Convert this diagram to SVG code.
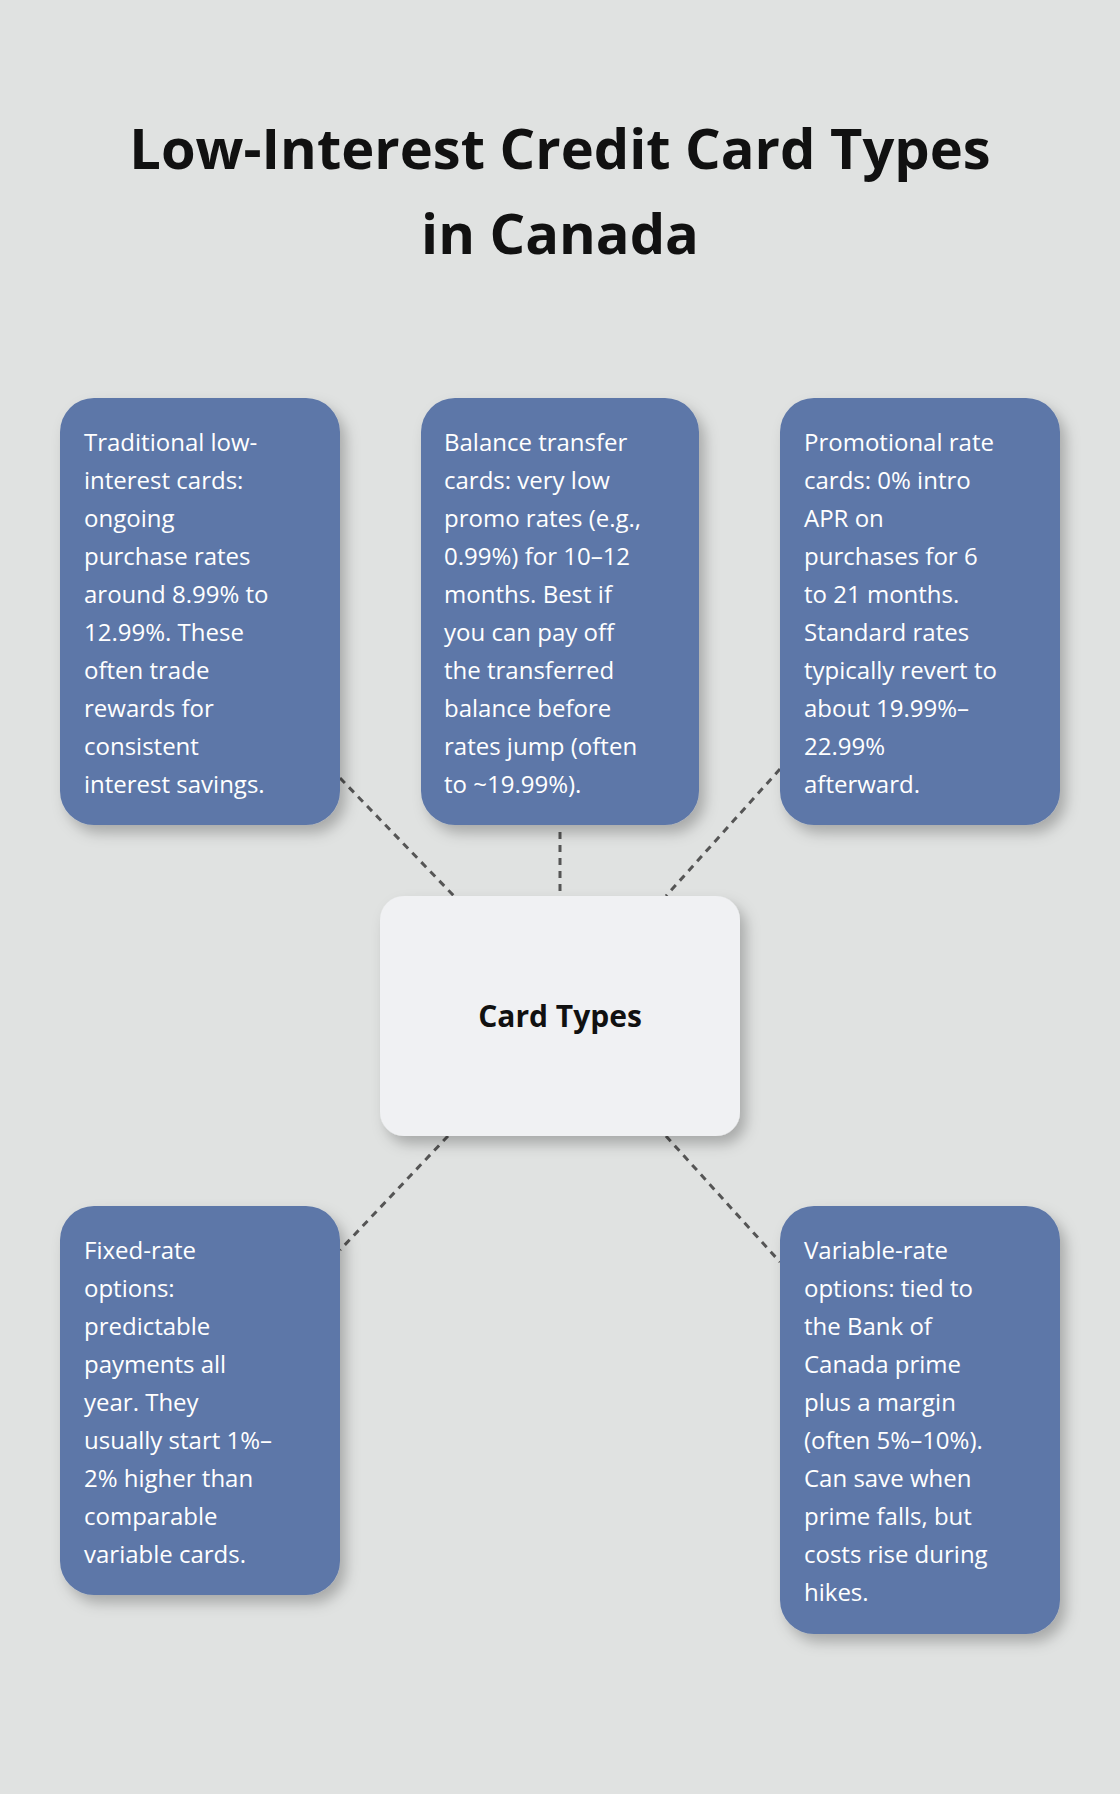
<svg xmlns="http://www.w3.org/2000/svg" width="1120" height="1794" viewBox="0 0 1120 1794">
<defs>
<filter id="sh" x="-20%" y="-20%" width="140%" height="140%"><feDropShadow dx="6" dy="8" stdDeviation="7" flood-color="#000" flood-opacity="0.25"/></filter>
</defs>
<style>
.b{fill:#5d77a8;filter:url(#sh)}
.t{font-family:"Open Sans","Noto Sans",sans-serif;font-size:24px;fill:#fff}
.c{stroke:#555;stroke-width:3;stroke-dasharray:7 6;fill:none}
</style>
<rect width="1120" height="1794" fill="#e0e2e1"/>
<g font-family="'Open Sans','Noto Sans',sans-serif" font-weight="bold" font-size="56" text-anchor="middle" fill="#111">
<text x="560" y="169">Low-Interest Credit Card Types</text>
<text x="560" y="254">in Canada</text>
</g>
<g id="connectors">
<line class="c" x1="340" y1="778" x2="454" y2="896"/>
<line class="c" x1="560" y1="832" x2="560" y2="896"/>
<line class="c" x1="780" y1="769" x2="666" y2="896"/>
<line class="c" x1="448" y1="1136" x2="340" y2="1250"/>
<line class="c" x1="666" y1="1136" x2="780" y2="1262"/>
</g>
<g id="center"><rect x="380" y="896" width="360" height="240" rx="24" fill="#f0f1f3" filter="url(#sh)"/>
<text x="560" y="1027" text-anchor="middle" font-family="'Open Sans','Noto Sans',sans-serif" font-weight="bold" font-size="30" fill="#111">Card Types</text></g>
<g id="traditional"><rect class="b" x="60" y="398" width="280" height="427" rx="34"/>
<text class="t"><tspan x="84" y="451">Traditional low-</tspan><tspan x="84" y="489">interest cards:</tspan><tspan x="84" y="527">ongoing</tspan><tspan x="84" y="565">purchase rates</tspan><tspan x="84" y="603">around 8.99% to</tspan><tspan x="84" y="641">12.99%. These</tspan><tspan x="84" y="679">often trade</tspan><tspan x="84" y="717">rewards for</tspan><tspan x="84" y="755">consistent</tspan><tspan x="84" y="793">interest savings.</tspan></text></g>
<g id="balance"><rect class="b" x="421" y="398" width="278" height="427" rx="34"/>
<text class="t"><tspan x="444" y="451">Balance transfer</tspan><tspan x="444" y="489">cards: very low</tspan><tspan x="444" y="527">promo rates (e.g.,</tspan><tspan x="444" y="565">0.99%) for 10–12</tspan><tspan x="444" y="603">months. Best if</tspan><tspan x="444" y="641">you can pay off</tspan><tspan x="444" y="679">the transferred</tspan><tspan x="444" y="717">balance before</tspan><tspan x="444" y="755">rates jump (often</tspan><tspan x="444" y="793">to ~19.99%).</tspan></text></g>
<g id="promo"><rect class="b" x="780" y="398" width="280" height="427" rx="34"/>
<text class="t"><tspan x="804" y="451">Promotional rate</tspan><tspan x="804" y="489">cards: 0% intro</tspan><tspan x="804" y="527">APR on</tspan><tspan x="804" y="565">purchases for 6</tspan><tspan x="804" y="603">to 21 months.</tspan><tspan x="804" y="641">Standard rates</tspan><tspan x="804" y="679">typically revert to</tspan><tspan x="804" y="717">about 19.99%–</tspan><tspan x="804" y="755">22.99%</tspan><tspan x="804" y="793">afterward.</tspan></text></g>
<g id="fixed"><rect class="b" x="60" y="1206" width="280" height="389" rx="34"/>
<text class="t"><tspan x="84" y="1259">Fixed-rate</tspan><tspan x="84" y="1297">options:</tspan><tspan x="84" y="1335">predictable</tspan><tspan x="84" y="1373">payments all</tspan><tspan x="84" y="1411">year. They</tspan><tspan x="84" y="1449">usually start 1%–</tspan><tspan x="84" y="1487">2% higher than</tspan><tspan x="84" y="1525">comparable</tspan><tspan x="84" y="1563">variable cards.</tspan></text></g>
<g id="variable"><rect class="b" x="780" y="1206" width="280" height="428" rx="34"/>
<text class="t"><tspan x="804" y="1259">Variable-rate</tspan><tspan x="804" y="1297">options: tied to</tspan><tspan x="804" y="1335">the Bank of</tspan><tspan x="804" y="1373">Canada prime</tspan><tspan x="804" y="1411">plus a margin</tspan><tspan x="804" y="1449">(often 5%–10%).</tspan><tspan x="804" y="1487">Can save when</tspan><tspan x="804" y="1525">prime falls, but</tspan><tspan x="804" y="1563">costs rise during</tspan><tspan x="804" y="1601">hikes.</tspan></text></g>
</svg>
